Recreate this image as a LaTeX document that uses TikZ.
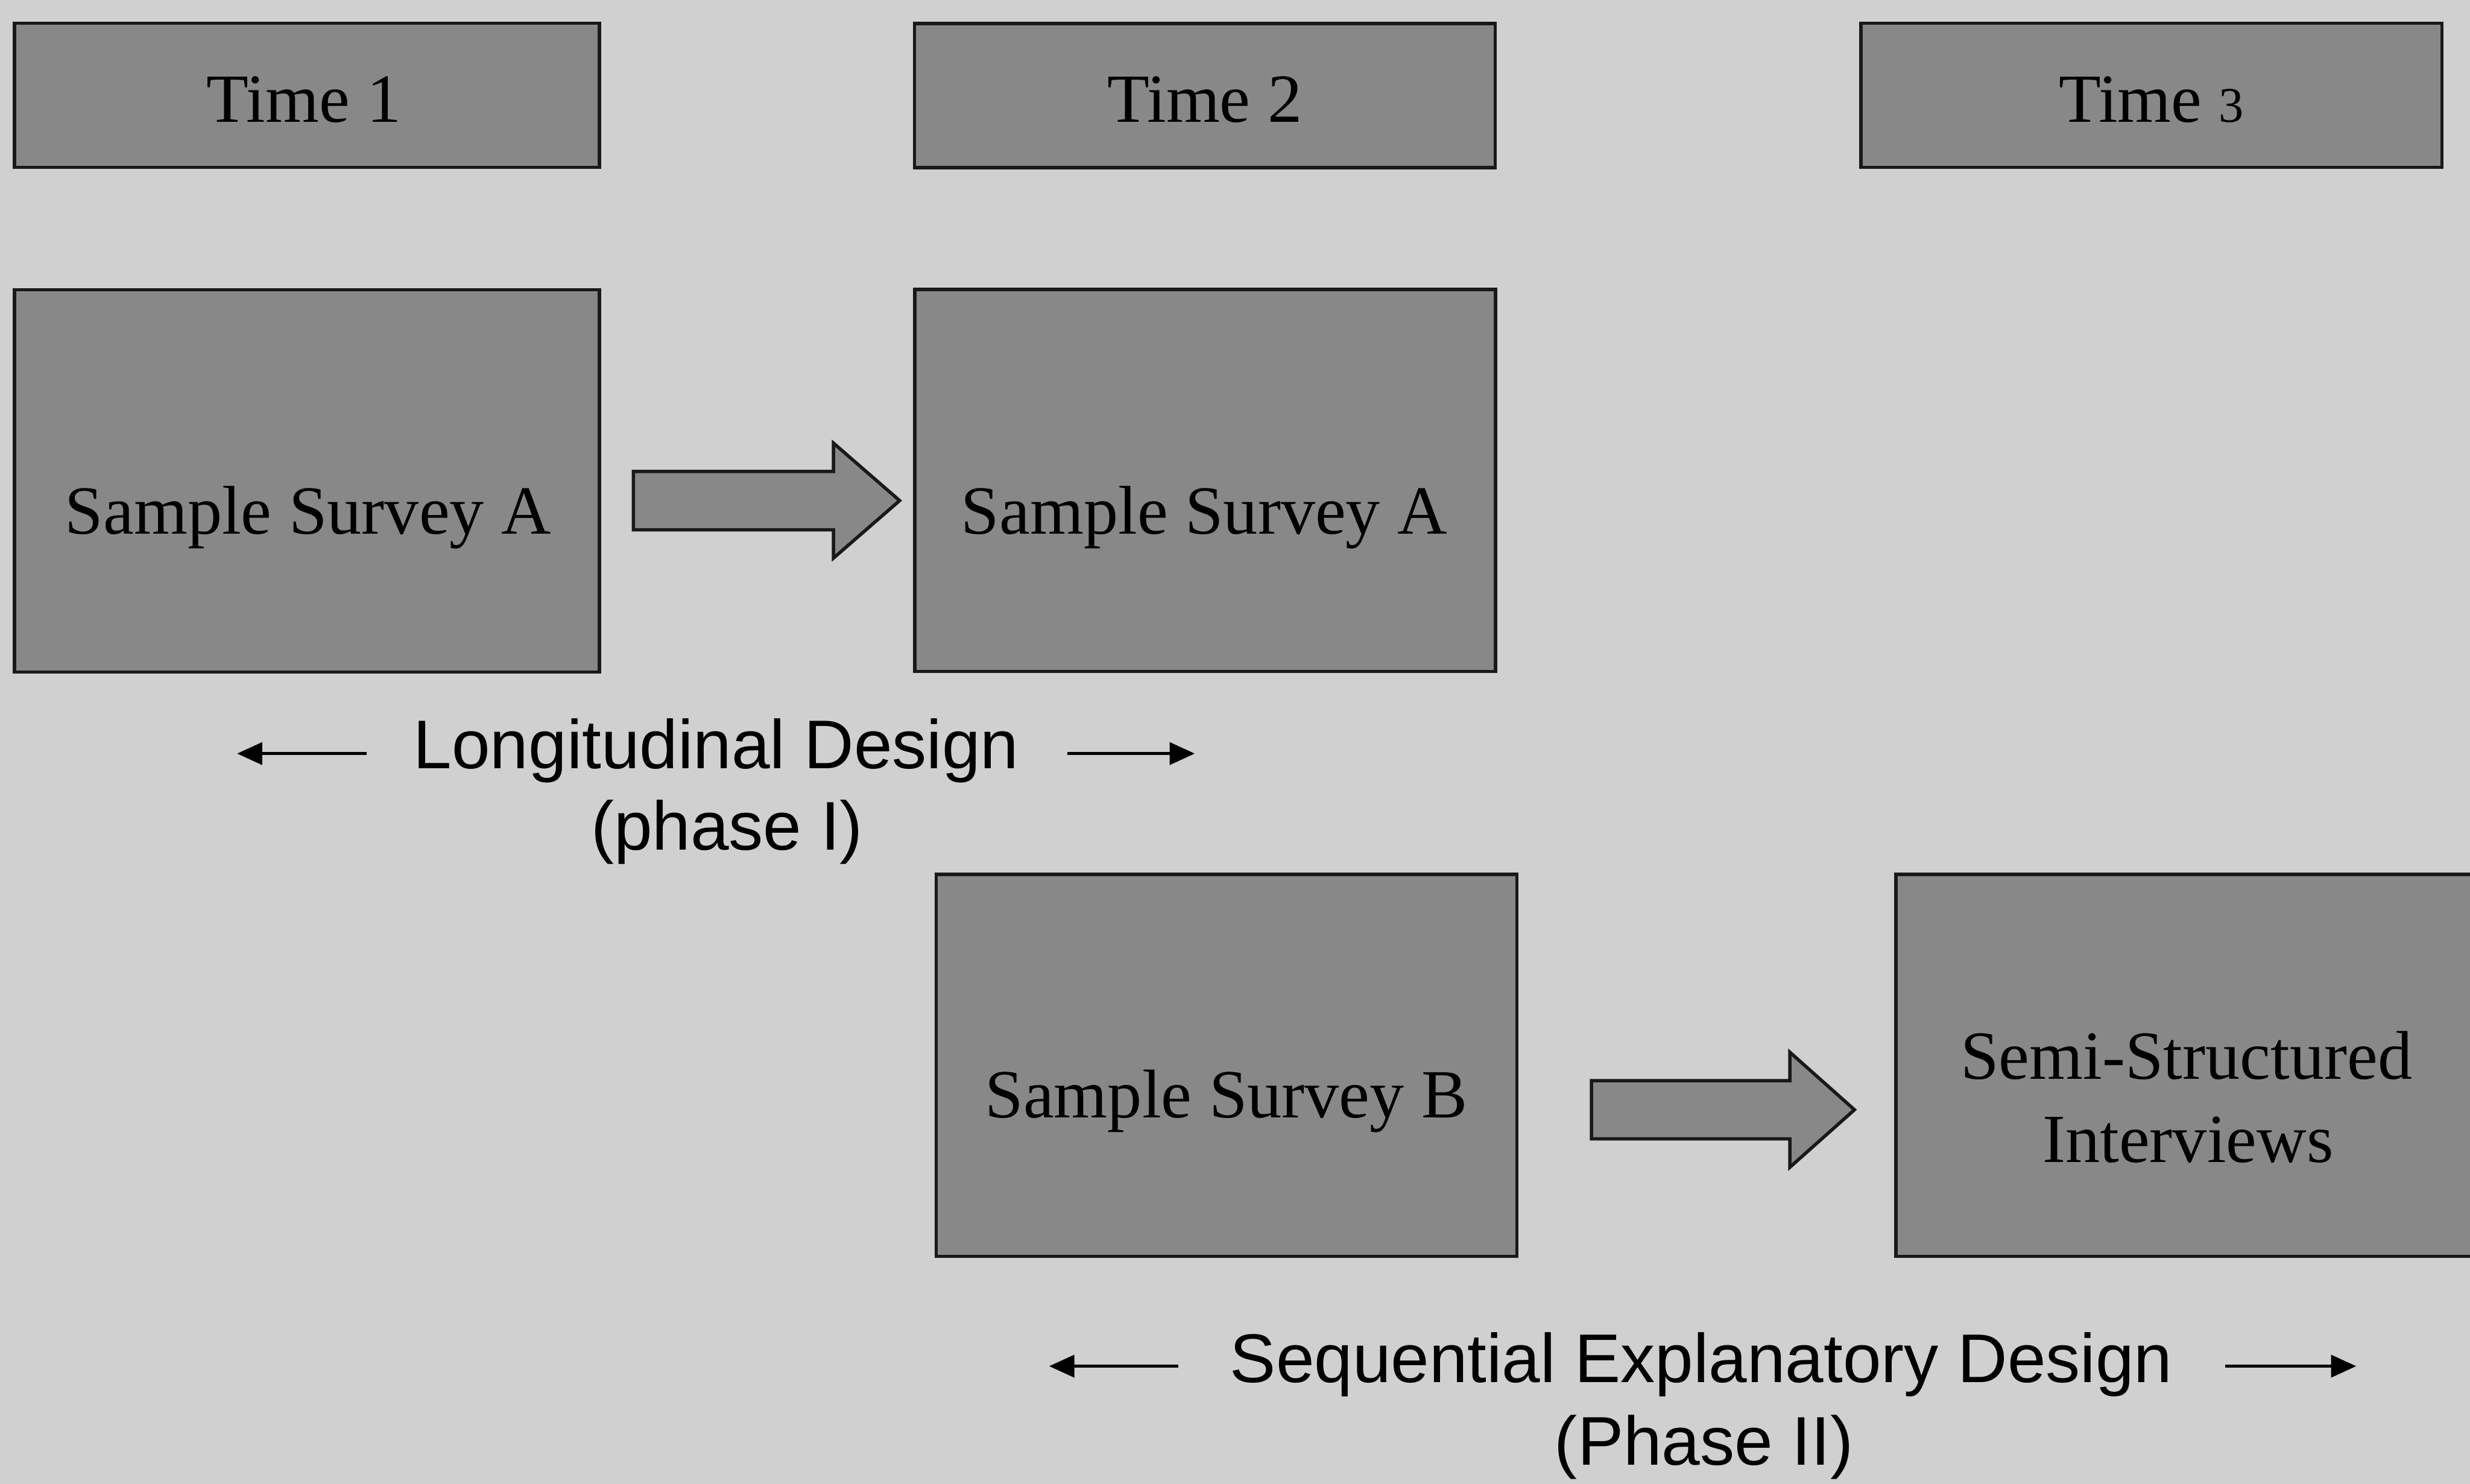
\documentclass[tikz,border=0pt]{standalone}
\usepackage{fontspec}
\setmainfont{Liberation Serif}
\setsansfont{Liberation Sans}
\usetikzlibrary{calc,arrows.meta}
\definecolor{paper}{RGB}{208,208,208}
\definecolor{boxgray}{RGB}{136,136,136}
\definecolor{edge}{RGB}{25,25,25}
\begin{document}
\begin{tikzpicture}[x=0.01cm,y=-0.01cm,
  panel/.style={draw=edge,fill=boxgray,line width=0.6pt,rectangle,inner sep=0pt,outer sep=0pt},
  timebox/.style={panel,minimum width=3.685cm,minimum height=0.915cm},
  surveybox/.style={panel,minimum width=3.685cm,minimum height=2.425cm},
  boxtext/.style={font=\fontsize{12.44pt}{15pt}\selectfont,text=black,inner sep=0pt,anchor=base},
  designtext/.style={font=\sffamily\fontsize{12.44pt}{15pt}\selectfont,text=black,inner sep=0pt,anchor=base},
  spanarrow/.style={draw=black,line width=0.6pt,-{Triangle[length=0.16cm,width=0.14cm]}},
  blockarrow/.style={draw=edge,fill=boxgray,line width=0.6pt,line join=miter}]

% page
\fill[paper] (0,0) rectangle (1568,942);
\useasboundingbox (0,0) rectangle (1568,942);
\clip (0,0) rectangle (1568,942);

% time headers
\node[timebox,minimum width=3.712cm] (t1) at (194.8,60.5) {};
\node[timebox] (t2) at (764.8,60.7) {};
\node[timebox] (t3) at (1365.8,60.5) {};
\node[boxtext] (t1lbl) at (193,77.5) {Time 1};
\node[boxtext] (t2lbl) at (764.8,77.5) {Time 2};
\node[boxtext] (t3lbl) at (1365.8,77.5) {Time {\fontsize{9pt}{10pt}\selectfont 3}};

% phase I: longitudinal surveys
\node[surveybox,minimum width=3.712cm] (sa1) at (194.8,305.3) {};
\node[surveybox] (sa2) at (765,305) {};
\node[boxtext] (sa1lbl) at (195.6,338.9) {Sample Survey A};
\node[boxtext] (sa2lbl) at (764.5,339) {Sample Survey A};

\coordinate (a1) at ($(sa1.east)+(21.6,12.5)$);
\draw[blockarrow] (a1) ++(0,-18.5) -- ++(127,0) -- ++(0,-18) -- ++(42,36.5)
  -- ++(-42,36.5) -- ++(0,-18) -- ++(-127,0) -- cycle;

\node[designtext] (ldlbl) at (454.7,487.8) {Longitudinal Design};
\node[designtext] (ldphase) at (461.5,539.6) {(phase I)};
\coordinate (ldl0) at (232.7,478.4);
\coordinate (ldl1) at (150.5,478.4);
\coordinate (ldr0) at (677.6,478.4);
\coordinate (ldr1) at (758.5,478.4);
\draw[spanarrow] (ldl0) -- (ldl1);
\draw[spanarrow] (ldr0) -- (ldr1);

% phase II: sequential explanatory
\node[surveybox] (sb) at (778.7,676.3) {};
\node[surveybox] (ssi) at (1388,676.3) {};
\node[boxtext] (sblbl) at (778.5,709.6) {Sample Survey B};
\node[boxtext] (ssilbl1) at (1388,685) {Semi-Structured};
\node[boxtext] (ssilbl2) at (1389,738) {Interviews};

\coordinate (a2) at ($(sb.east)+(47.2,28.2)$);
\draw[blockarrow] (a2) ++(0,-18.5) -- ++(126,0) -- ++(0,-18) -- ++(41,36.5)
  -- ++(-41,36.5) -- ++(0,-18) -- ++(-126,0) -- cycle;

\node[designtext] (sdlbl) at (1080,877.6) {Sequential Explanatory Design};
\node[designtext] (sdphase) at (1081.7,929.9) {(Phase II)};
\coordinate (sdl0) at (748,867.3);
\coordinate (sdl1) at (666,867.3);
\coordinate (sdr0) at (1412.6,867.3);
\coordinate (sdr1) at (1495.8,867.3);
\draw[spanarrow] (sdl0) -- (sdl1);
\draw[spanarrow] (sdr0) -- (sdr1);
\end{tikzpicture}
\end{document}
